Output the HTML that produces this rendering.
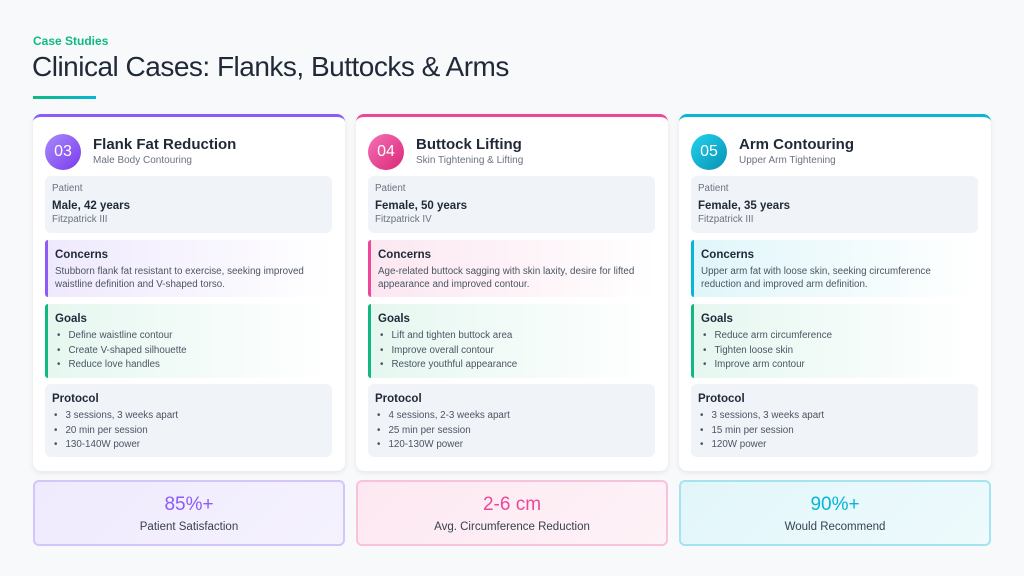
<!DOCTYPE html>
<html><head><style>
*{margin:0;padding:0;box-sizing:border-box}
body{width:1024px;height:576px;background:#f8f9fb;font-family:"Liberation Sans",sans-serif;color:#1f2937;position:relative;overflow:hidden}
.tag{position:absolute;left:33px;top:34px;font-size:12px;color:#10b981;font-weight:bold}
h1{position:absolute;left:32px;top:51px;font-size:28px;font-weight:normal;color:#1f2937;letter-spacing:-0.5px}
.ul{position:absolute;left:33px;top:96px;width:63px;height:3px;background:linear-gradient(90deg,#10b981,#06b6d4)}
.card{position:absolute;top:114px;width:312px;height:357px;background:#fff;border-radius:8px;box-shadow:0 2px 6px rgba(0,0,0,.08);border-top:3px solid}
.circ{position:absolute;left:12px;top:17px;width:36px;height:36px;border-radius:50%;color:#fff;font-size:16px;text-align:center;line-height:36px}
.t{position:absolute;left:60px;top:19px;font-size:15px;font-weight:bold;color:#1f2937}
.s{position:absolute;left:60px;top:38px;font-size:10px;color:#6b7280}
.box{position:absolute;left:12px;width:287px;border-radius:6px;background:#f0f3f8;padding:9px 7px 6px}
.lb{border-radius:3px 6px 6px 3px;border-left:3px solid}
.bh{font-size:11.5px;font-weight:bold;color:#1f2937;margin-bottom:4px}
.bt{font-size:9.8px;color:#4b5563;line-height:13px}
ul{list-style:none;font-size:9.8px;color:#4b5563;line-height:14.5px}
li:before{content:"•";margin:0 8px 0 2px}
.stat{position:absolute;top:480px;width:312px;height:66px;border-radius:6px;border:2px solid;text-align:center}
.sv{font-size:19px;margin-top:12px}
.sl{font-size:11.5px;color:#374151;margin-top:5px}
.pl{font-size:9.8px;color:#6b7280;margin-top:-2px}
.pn{font-size:11.5px;font-weight:bold;margin-top:6px}
.pf{font-size:9.8px;color:#6b7280;margin-top:2px}
</style></head><body>
<div class="tag">Case Studies</div>
<h1>Clinical Cases: Flanks, Buttocks &amp; Arms</h1>
<div class="ul"></div>

<div class="card" style="left:33px;border-color:#8b5cf6">
<div class="circ" style="background:linear-gradient(135deg,#a78bfa,#7c3aed)">03</div>
<div class="t">Flank Fat Reduction</div><div class="s">Male Body Contouring</div>
<div class="box" style="top:59px;height:57px"><div class="pl">Patient</div><div class="pn">Male, 42 years</div><div class="pf">Fitzpatrick III</div></div>
<div class="box lb" style="top:123px;height:57px;border-color:#8b5cf6;background:linear-gradient(90deg,#efe9fd,#fff)"><div class="bh">Concerns</div><div class="bt">Stubborn flank fat resistant to exercise, seeking improved waistline definition and V-shaped torso.</div></div>
<div class="box lb" style="top:187px;height:74px;border-color:#10b981;background:linear-gradient(90deg,#e6f7f0,#fff)"><div class="bh">Goals</div><ul><li>Define waistline contour</li><li>Create V-shaped silhouette</li><li>Reduce love handles</li></ul></div>
<div class="box" style="top:267px;height:73px"><div class="bh">Protocol</div><ul><li>3 sessions, 3 weeks apart</li><li>20 min per session</li><li>130-140W power</li></ul></div>
</div>

<div class="card" style="left:356px;border-color:#ec4899">
<div class="circ" style="background:linear-gradient(135deg,#f472b6,#db2777)">04</div>
<div class="t">Buttock Lifting</div><div class="s">Skin Tightening &amp; Lifting</div>
<div class="box" style="top:59px;height:57px"><div class="pl">Patient</div><div class="pn">Female, 50 years</div><div class="pf">Fitzpatrick IV</div></div>
<div class="box lb" style="top:123px;height:57px;border-color:#ec4899;background:linear-gradient(90deg,#fce7f1,#fff)"><div class="bh">Concerns</div><div class="bt">Age-related buttock sagging with skin laxity, desire for lifted appearance and improved contour.</div></div>
<div class="box lb" style="top:187px;height:74px;border-color:#10b981;background:linear-gradient(90deg,#e6f7f0,#fff)"><div class="bh">Goals</div><ul><li>Lift and tighten buttock area</li><li>Improve overall contour</li><li>Restore youthful appearance</li></ul></div>
<div class="box" style="top:267px;height:73px"><div class="bh">Protocol</div><ul><li>4 sessions, 2-3 weeks apart</li><li>25 min per session</li><li>120-130W power</li></ul></div>
</div>

<div class="card" style="left:679px;border-color:#06b6d4">
<div class="circ" style="background:linear-gradient(135deg,#22d3ee,#0891b2)">05</div>
<div class="t">Arm Contouring</div><div class="s">Upper Arm Tightening</div>
<div class="box" style="top:59px;height:57px"><div class="pl">Patient</div><div class="pn">Female, 35 years</div><div class="pf">Fitzpatrick III</div></div>
<div class="box lb" style="top:123px;height:57px;border-color:#06b6d4;background:linear-gradient(90deg,#e0f6fa,#fff)"><div class="bh">Concerns</div><div class="bt">Upper arm fat with loose skin, seeking circumference reduction and improved arm definition.</div></div>
<div class="box lb" style="top:187px;height:74px;border-color:#10b981;background:linear-gradient(90deg,#e6f7f0,#fff)"><div class="bh">Goals</div><ul><li>Reduce arm circumference</li><li>Tighten loose skin</li><li>Improve arm contour</li></ul></div>
<div class="box" style="top:267px;height:73px"><div class="bh">Protocol</div><ul><li>3 sessions, 3 weeks apart</li><li>15 min per session</li><li>120W power</li></ul></div>
</div>

<div class="stat" style="left:33px;border-color:#d4c5fb;background:linear-gradient(135deg,#efeafd,#f5f2fe)"><div class="sv" style="color:#8b5cf6">85%+</div><div class="sl">Patient Satisfaction</div></div>
<div class="stat" style="left:356px;border-color:#f9c2dc;background:linear-gradient(135deg,#fde8f1,#fdf2f7)"><div class="sv" style="color:#ec4899">2-6 cm</div><div class="sl">Avg. Circumference Reduction</div></div>
<div class="stat" style="left:679px;border-color:#a5e4ef;background:linear-gradient(135deg,#e2f6fa,#eefafc)"><div class="sv" style="color:#06b6d4">90%+</div><div class="sl">Would Recommend</div></div>
</body></html>
